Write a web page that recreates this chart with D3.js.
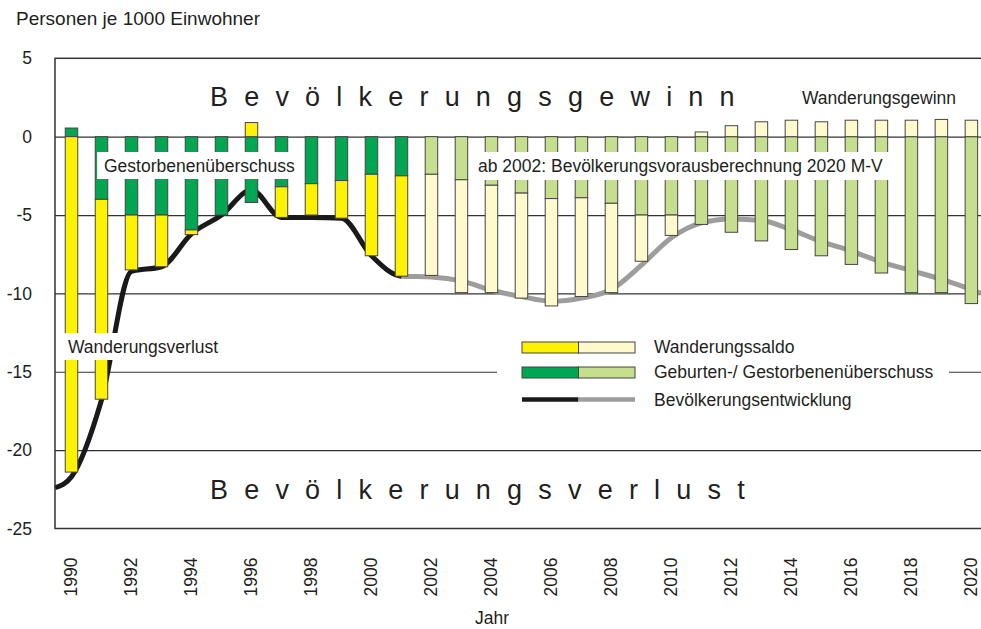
<!DOCTYPE html>
<html>
<head>
<meta charset="utf-8">
<script src="https://cdn.jsdelivr.net/npm/d3@7"></script>
<style>
    body { margin: 0; background: #fff; }
    text { font-family: "Liberation Sans", Arial, sans-serif; fill: #231f20; }
</style>
</head>
<body>
<svg id="chart" width="981" height="629"></svg>
<script>
// Bevölkerungsentwicklung M-V, Personen je 1000 Einwohner
// ab 2002 Vorausberechnung (helle Farben)

const years = [1990, 1991, 1992, 1993, 1994, 1995, 1996, 1997, 1998, 1999, 2000,
    2001, 2002, 2003, 2004, 2005, 2006, 2007, 2008, 2009, 2010,
    2011, 2012, 2013, 2014, 2015, 2016, 2017, 2018, 2019, 2020];

// Geburten-/ Gestorbenenüberschuss
const natural = [0.55, -4.0, -5.0, -5.0, -5.95, -5.0, -4.2, -3.2, -3.0, -2.8, -2.4,
    -2.5, -2.4, -2.75, -3.1, -3.6, -3.95, -3.9, -4.25, -5.0, -5.0,
    -5.6, -6.1, -6.65, -7.2, -7.6, -8.15, -8.7, -9.95, -9.95, -10.65];

// Wanderungssaldo
const migration = [-21.4, -12.75, -3.5, -3.3, -0.3, 0, 0.9, -1.95, -2.0, -2.4, -5.2,
    -6.4, -6.45, -7.2, -6.85, -6.7, -6.85, -6.3, -5.7, -2.95, -1.3,
    0.3, 0.7, 0.95, 1.05, 0.95, 1.05, 1.05, 1.05, 1.1, 1.05];

// Bevölkerungsentwicklung (Kurve)
const trendYears = [1989.45, 1990, 1991, 1992, 1993, 1994, 1995, 1996, 1997, 1998, 1999, 2000,
    2001, 2002, 2003, 2004, 2005, 2006, 2007, 2008, 2009, 2010,
    2011, 2012, 2013, 2014, 2015, 2016, 2017, 2018, 2019, 2020, 2020.32];
const trendValues = [-22.4, -21.7, -16.8, -8.6, -8.3, -6.2, -5.0, -3.4, -5.15, -5.15, -5.2, -7.6,
    -8.9, -8.95, -9.2, -9.8, -10.2, -10.5, -10.3, -9.75, -8.2, -6.45,
    -5.5, -5.25, -5.35, -5.95, -6.7, -7.3, -8.0, -8.55, -9.1, -9.75, -10.0];

const yTicks = [5, 0, -5, -10, -15, -20, -25];
const gridTicks = [0, -5, -10, -15, -20];
const xTicks = [1990, 1992, 1994, 1996, 1998, 2000, 2002, 2004, 2006, 2008, 2010,
    2012, 2014, 2016, 2018, 2020];

const projectionStart = 2002;

const colors = {
    migration: "#fff200",
    migrationLight: "#fffacc",
    natural: "#00a651",
    naturalLight: "#c6df8e",
    line: "#1a1a1a",
    lineLight: "#9d9d9d"
};

var margin = { top: 58.3, left: 55, right: 981, bottom: 528.5 }

const xScale = d3.scaleLinear()
    .domain([1989.45, 2020.32])
    .range([margin.left, margin.right]);

const yScale = d3.scaleLinear()
    .domain([-25, 5])
    .range([margin.bottom, margin.top]);

const svg = d3.select("#chart");

// grid lines
svg.append("g")
    .attr("transform", "translate(" + margin.left + ",0)")
    .call(d3.axisLeft(yScale).tickValues(gridTicks).tickSize(-(margin.right - margin.left)).tickFormat(""))
    .call(g => g.select(".domain").remove())
    .selectAll("line")
    .attr("stroke", "#333")
    .attr("stroke-width", 1.2);

// trend line, black until 2001, grey afterwards
var split = xScale(2001);
var defs = svg.append("defs");
defs.append("clipPath").attr("id", "clipPast")
    .append("rect").attr("x", 0).attr("y", 0).attr("width", split).attr("height", 629);
defs.append("clipPath").attr("id", "clipFuture")
    .append("rect").attr("x", split).attr("y", 0).attr("width", 981 - split).attr("height", 629);

const trend = trendYears.map((yr, i) => ({ year: yr, value: trendValues[i] }));
const line = d3.line()
    .x(d => xScale(d.year))
    .y(d => yScale(d.value))
    .curve(d3.curveMonotoneX);

svg.append("path")
    .datum(trend)
    .attr("d", line)
    .attr("clip-path", "url(#clipFuture)")
    .attr("fill", "none")
    .attr("stroke", colors.lineLight)
    .attr("stroke-width", 5);

svg.append("path")
    .datum(trend)
    .attr("d", line)
    .attr("clip-path", "url(#clipPast)")
    .attr("fill", "none")
    .attr("stroke", colors.line)
    .attr("stroke-width", 5);

// stacked bars (positive and negative parts separately)
const rows = years.map((yr, i) => ({ year: yr, natural: natural[i], migration: migration[i] }));
const series = d3.stack()
    .keys(["natural", "migration"])
    .offset(d3.stackOffsetDiverging)(rows);

const barWidth = 12.5;

svg.append("g")
    .selectAll("g")
    .data(series)
    .enter()
    .append("g")
    .each(function (s) {
        d3.select(this).selectAll("rect")
            .data(s.filter(d => d[1] !== d[0]))
            .enter()
            .append("rect")
            .attr("x", d => xScale(d.data.year) - barWidth / 2)
            .attr("width", barWidth)
            .attr("y", d => yScale(Math.max(d[0], d[1])))
            .attr("height", d => Math.abs(yScale(d[0]) - yScale(d[1])))
            .attr("fill", d => {
                var light = d.data.year >= projectionStart;
                if (s.key === "natural") return light ? colors.naturalLight : colors.natural;
                return light ? colors.migrationLight : colors.migration;
            })
            .attr("stroke", "#454545")
            .attr("stroke-width", 1);
    });

// labels on white boxes
function boxLabel(txt, bx, by, bw, bh, tx, ty) {
    svg.append("rect").attr("x", bx).attr("y", by).attr("width", bw).attr("height", bh).attr("fill", "#fff");
    svg.append("text").attr("x", tx).attr("y", ty).style("font-size", "17.5px").text(txt);
}
boxLabel("Gestorbenenüberschuss", 97, 152, 204, 27, 104, 172);
boxLabel("ab 2002: Bevölkerungsvorausberechnung 2020 M-V", 472, 152, 420, 28, 478, 172);
boxLabel("Wanderungsverlust", 58, 333, 166, 27, 68, 353);

svg.append("text")
    .attr("x", 802).attr("y", 104)
    .style("font-size", "17.5px")
    .text("Wanderungsgewinn");

// big spaced captions
svg.append("text")
    .attr("x", 210).attr("y", 106)
    .style("font-size", "27px")
    .style("letter-spacing", "16.2px")
    .text("Bevölkerungsgewinn");

svg.append("text")
    .attr("x", 210).attr("y", 499)
    .style("font-size", "27px")
    .style("letter-spacing", "16.2px")
    .text("Bevölkerungsverlust");

// legend
var legend = svg.append("g");
legend.append("rect").attr("x", 497).attr("y", 334).attr("width", 452).attr("height", 76).attr("fill", "#fff");

var legendItems = [
    { label: "Wanderungssaldo", dark: colors.migration, light: colors.migrationLight, kind: "bar", y: 342 },
    { label: "Geburten-/ Gestorbenenüberschuss", dark: colors.natural, light: colors.naturalLight, kind: "bar", y: 367 },
    { label: "Bevölkerungsentwicklung", dark: colors.line, light: colors.lineLight, kind: "line", y: 399.5 }
];
legendItems.forEach(function (d) {
    if (d.kind === "bar") {
        legend.append("rect").attr("x", 522).attr("y", d.y).attr("width", 56.5).attr("height", 11)
            .attr("fill", d.dark).attr("stroke", "#454545");
        legend.append("rect").attr("x", 578.5).attr("y", d.y).attr("width", 56.5).attr("height", 11)
            .attr("fill", d.light).attr("stroke", "#454545");
    } else {
        legend.append("line").attr("x1", 522).attr("x2", 578.5).attr("y1", d.y).attr("y2", d.y)
            .attr("stroke", d.dark).attr("stroke-width", 4.5);
        legend.append("line").attr("x1", 578.5).attr("x2", 635).attr("y1", d.y).attr("y2", d.y)
            .attr("stroke", d.light).attr("stroke-width", 4.5);
    }
    legend.append("text")
        .attr("x", 654)
        .attr("y", d.kind === "bar" ? d.y + 11 : d.y + 6)
        .style("font-size", "17.5px")
        .text(d.label);
});

// frame
svg.append("rect")
    .attr("x", margin.left).attr("y", margin.top)
    .attr("width", margin.right - margin.left + 2)
    .attr("height", margin.bottom - margin.top)
    .attr("fill", "none")
    .attr("stroke", "#333")
    .attr("stroke-width", 1.5);

// y axis labels (plain hyphen as minus sign)
svg.append("g")
    .attr("transform", "translate(" + margin.left + ",0)")
    .call(d3.axisLeft(yScale).tickValues(yTicks).tickSize(0).tickPadding(23).tickFormat(d => String(d)))
    .call(g => g.select(".domain").remove())
    .selectAll("text")
    .style("font-size", "17.5px")
    .style("font-family", "'Liberation Sans', Arial, sans-serif")
    .attr("fill", "#231f20");

// x axis labels (rotated)
svg.append("g")
    .attr("transform", "translate(0," + margin.bottom + ")")
    .call(d3.axisBottom(xScale).tickValues(xTicks).tickSize(0).tickFormat(d => String(d)))
    .call(g => g.select(".domain").remove())
    .selectAll("text")
    .attr("transform", "rotate(-90)")
    .attr("x", -29)
    .attr("y", -1)
    .attr("dy", "0.36em")
    .style("text-anchor", "end")
    .style("font-size", "17.5px")
    .style("font-family", "'Liberation Sans', Arial, sans-serif")
    .attr("fill", "#231f20");

svg.append("text")
    .attr("x", 492).attr("y", 624)
    .attr("text-anchor", "middle")
    .style("font-size", "17.5px")
    .text("Jahr");

svg.append("text")
    .attr("x", 16).attr("y", 25)
    .style("font-size", "19px")
    .text("Personen je 1000 Einwohner");
</script>
</body>
</html>
